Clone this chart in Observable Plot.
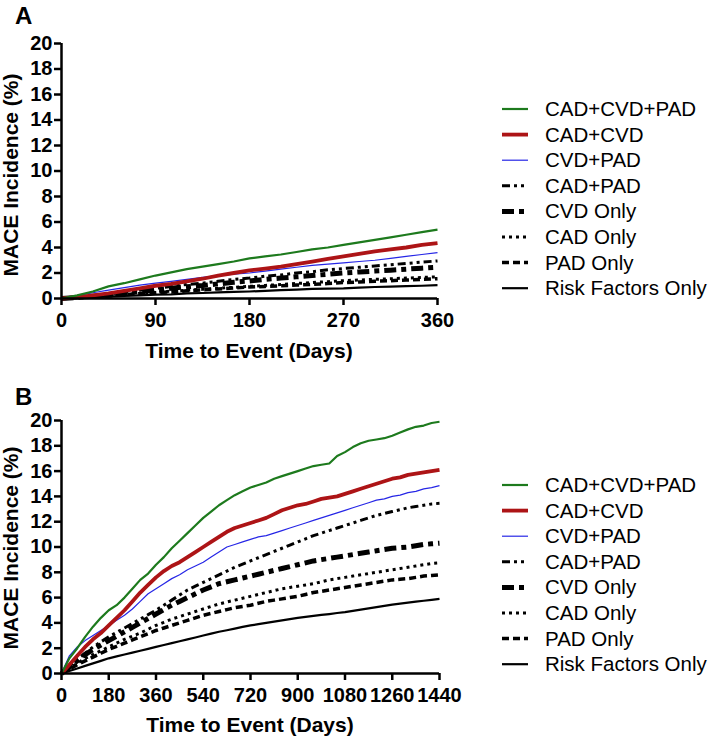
<!DOCTYPE html>
<html>
<head>
<meta charset="utf-8">
<script src="https://cdn.jsdelivr.net/npm/d3@7"></script>
<script src="https://cdn.jsdelivr.net/npm/@observablehq/plot@0.6"></script>
<style>
html,body{margin:0;padding:0;background:#fff;}
#fig{position:relative;width:709px;height:740px;overflow:hidden;background:#fff;font-family:"Liberation Sans",Arial,Helvetica,sans-serif;}
.panel{position:absolute;left:0;width:709px;height:370px;}
#overlay{position:absolute;left:0;top:0;pointer-events:none;}
</style>
</head>
<body>
<div id="fig">
  <div class="panel" id="panelA" style="top:0px"></div>
  <div class="panel" id="panelB" style="top:370px"></div>
</div>
<script>
// ---------- categories & ticks ----------
const seriesNames = ["CAD+CVD+PAD", "CAD+CVD", "CVD+PAD", "CAD+PAD", "CVD Only", "CAD Only", "PAD Only", "Risk Factors Only"];
const yTicks = [0, 2, 4, 6, 8, 10, 12, 14, 16, 18, 20];
const xTicksA = [0, 90, 180, 270, 360];
const xTicksB = [0, 180, 360, 540, 720, 900, 1080, 1260, 1440];
const panelLetters = ["A", "B"];
const yTitle = "MACE Incidence (%)";
const xTitle = "Time to Event (Days)";

// ---------- Panel A (days 0-360) ----------
const daysA = [0, 15, 30, 45, 60, 75, 90, 105, 120, 135, 150, 165, 180, 195, 210, 225, 240, 255, 270, 285, 300, 315, 330, 345, 360];
const aCadCvdPad = [0, 0.25, 0.55, 0.95, 1.2, 1.5, 1.8, 2.05, 2.3, 2.5, 2.7, 2.9, 3.15, 3.3, 3.45, 3.65, 3.85, 4.0, 4.2, 4.4, 4.6, 4.8, 5.0, 5.2, 5.4];
const aCadCvd    = [0, 0.1, 0.25, 0.4, 0.6, 0.8, 1.0, 1.15, 1.35, 1.55, 1.8, 2.0, 2.2, 2.35, 2.5, 2.7, 2.9, 3.1, 3.3, 3.5, 3.7, 3.85, 4.0, 4.2, 4.35];
const aCvdPad    = [0, 0.2, 0.45, 0.65, 0.85, 1.05, 1.2, 1.35, 1.5, 1.65, 1.8, 1.9, 2.0, 2.15, 2.3, 2.45, 2.6, 2.7, 2.8, 2.9, 3.0, 3.15, 3.3, 3.45, 3.6];
const aCadPad    = [0, 0.1, 0.2, 0.35, 0.5, 0.65, 0.8, 0.95, 1.1, 1.2, 1.35, 1.5, 1.6, 1.75, 1.85, 2.0, 2.1, 2.25, 2.35, 2.45, 2.55, 2.65, 2.75, 2.85, 2.95];
const aCvdOnly   = [0, 0.08, 0.18, 0.3, 0.42, 0.55, 0.68, 0.8, 0.92, 1.02, 1.15, 1.27, 1.38, 1.5, 1.6, 1.7, 1.8, 1.9, 2.0, 2.08, 2.15, 2.22, 2.3, 2.38, 2.45];
const aCadOnly   = [0, 0.07, 0.15, 0.22, 0.3, 0.4, 0.5, 0.57, 0.65, 0.72, 0.8, 0.88, 0.95, 1.02, 1.1, 1.18, 1.25, 1.32, 1.4, 1.45, 1.5, 1.55, 1.6, 1.65, 1.7];
const aPadOnly   = [0, 0.05, 0.1, 0.2, 0.3, 0.38, 0.45, 0.52, 0.6, 0.68, 0.75, 0.82, 0.9, 0.95, 1.0, 1.05, 1.1, 1.18, 1.25, 1.3, 1.35, 1.4, 1.45, 1.5, 1.55];
const aRiskOnly  = [0, 0.05, 0.1, 0.15, 0.2, 0.25, 0.3, 0.33, 0.4, 0.43, 0.48, 0.52, 0.55, 0.6, 0.65, 0.7, 0.75, 0.78, 0.8, 0.85, 0.9, 0.93, 0.97, 1.0, 1.05];

// ---------- Panel B (days 0-1440) ----------
const daysB = [0, 30, 60, 90, 120, 150, 180, 210, 240, 270, 300, 330, 360, 390, 420, 450, 480, 510, 540, 570, 600, 630, 660, 690, 720, 750, 780, 810, 840, 870, 900, 930, 960, 990, 1020, 1050, 1080, 1110, 1140, 1170, 1200, 1230, 1260, 1290, 1320, 1350, 1380, 1410, 1440];
const bCadCvdPad = [0, 1.2, 2.0, 2.9, 3.7, 4.4, 5.0, 5.4, 6.0, 6.7, 7.4, 7.9, 8.6, 9.2, 9.9, 10.5, 11.1, 11.7, 12.3, 12.8, 13.3, 13.7, 14.1, 14.4, 14.7, 14.9, 15.1, 15.4, 15.6, 15.8, 16.0, 16.2, 16.4, 16.5, 16.6, 17.2, 17.5, 17.9, 18.2, 18.4, 18.5, 18.6, 18.8, 19.05, 19.3, 19.5, 19.6, 19.8, 19.9];
const bCadCvd    = [0, 0.7, 1.4, 2.1, 2.7, 3.2, 3.8, 4.4, 5.0, 5.7, 6.4, 7.0, 7.6, 8.1, 8.5, 8.8, 9.2, 9.6, 10.0, 10.4, 10.8, 11.2, 11.5, 11.7, 11.9, 12.1, 12.3, 12.6, 12.9, 13.1, 13.3, 13.4, 13.6, 13.8, 13.9, 14.0, 14.2, 14.4, 14.6, 14.8, 15.0, 15.2, 15.4, 15.5, 15.7, 15.8, 15.9, 16.0, 16.1];
const bCvdPad    = [0, 1.4, 2.1, 2.6, 3.0, 3.4, 3.8, 4.2, 4.6, 5.1, 5.7, 6.3, 6.7, 7.1, 7.5, 7.8, 8.2, 8.5, 8.8, 9.2, 9.6, 10.0, 10.2, 10.4, 10.6, 10.8, 10.9, 11.1, 11.3, 11.5, 11.7, 11.9, 12.1, 12.3, 12.5, 12.7, 12.9, 13.1, 13.3, 13.5, 13.7, 13.8, 14.0, 14.1, 14.3, 14.4, 14.6, 14.7, 14.85];
const bCadPad    = [0, 0.6, 1.1, 1.6, 2.1, 2.5, 2.9, 3.25, 3.6, 3.95, 4.3, 4.65, 5.0, 5.4, 5.8, 6.2, 6.6, 6.9, 7.2, 7.5, 7.8, 8.1, 8.4, 8.65, 8.9, 9.15, 9.4, 9.65, 9.9, 10.15, 10.4, 10.65, 10.9, 11.1, 11.3, 11.5, 11.7, 11.9, 12.1, 12.3, 12.5, 12.65, 12.8, 12.95, 13.1, 13.2, 13.3, 13.4, 13.45];
const bCvdOnly   = [0, 0.5, 1.0, 1.5, 1.9, 2.25, 2.6, 2.95, 3.3, 3.65, 4.0, 4.35, 4.7, 5.05, 5.4, 5.7, 6.0, 6.3, 6.6, 6.85, 7.1, 7.25, 7.4, 7.55, 7.7, 7.85, 8.0, 8.15, 8.3, 8.45, 8.6, 8.75, 8.9, 9.0, 9.1, 9.2, 9.3, 9.4, 9.5, 9.6, 9.7, 9.8, 9.9, 9.95, 10.0, 10.1, 10.2, 10.25, 10.3];
const bCadOnly   = [0, 0.4, 0.8, 1.2, 1.5, 1.8, 2.1, 2.4, 2.7, 2.95, 3.2, 3.5, 3.8, 4.05, 4.3, 4.5, 4.7, 4.9, 5.1, 5.3, 5.5, 5.65, 5.8, 5.95, 6.1, 6.25, 6.4, 6.55, 6.7, 6.8, 6.9, 7.0, 7.1, 7.25, 7.4, 7.5, 7.6, 7.7, 7.8, 7.9, 8.0, 8.1, 8.2, 8.3, 8.4, 8.5, 8.6, 8.7, 8.75];
const bPadOnly   = [0, 0.35, 0.7, 1.0, 1.3, 1.6, 1.9, 2.15, 2.4, 2.65, 2.9, 3.15, 3.4, 3.6, 3.8, 4.0, 4.2, 4.4, 4.6, 4.75, 4.9, 5.05, 5.2, 5.3, 5.4, 5.55, 5.7, 5.8, 5.9, 6.0, 6.1, 6.25, 6.4, 6.5, 6.6, 6.7, 6.8, 6.9, 7.0, 7.1, 7.2, 7.3, 7.4, 7.45, 7.5, 7.6, 7.7, 7.75, 7.8];
const bRiskOnly  = [0, 0.2, 0.4, 0.6, 0.8, 1.0, 1.2, 1.35, 1.5, 1.65, 1.8, 1.95, 2.1, 2.25, 2.4, 2.55, 2.7, 2.85, 3.0, 3.15, 3.3, 3.42, 3.55, 3.68, 3.8, 3.9, 4.0, 4.1, 4.2, 4.3, 4.4, 4.48, 4.55, 4.63, 4.7, 4.78, 4.85, 4.95, 5.05, 5.15, 5.25, 5.35, 5.45, 5.52, 5.6, 5.68, 5.75, 5.82, 5.9];

// ---------- styles (kept apart from data) ----------
const lineStyles = {
  "CAD+CVD+PAD":       {stroke: "#1d7a1d", width: 2.2, dash: null,          cap: "butt"},
  "CAD+CVD":           {stroke: "#ad1416", width: 3.8, dash: null,          cap: "butt"},
  "CVD+PAD":           {stroke: "#2626e6", width: 1.2, dash: null,          cap: "butt"},
  "CAD+PAD":           {stroke: "#000",    width: 3.0, dash: "8,4,3,4,3,4", cap: "butt"},
  "CVD Only":          {stroke: "#000",    width: 5.0, dash: "12,5,5,5",    cap: "butt"},
  "CAD Only":          {stroke: "#000",    width: 3.0, dash: "3,4",         cap: "butt"},
  "PAD Only":          {stroke: "#000",    width: 3.5, dash: "7,4",         cap: "butt"},
  "Risk Factors Only": {stroke: "#000",    width: 2.2, dash: null,          cap: "butt"}
};
const FONT = '"Liberation Sans", Arial, Helvetica, sans-serif';

function makePanel(days, values, xMax, xTicks, m) {
  const rows = seriesNames.flatMap((name, i) => values[i].map((v, j) => ({series: name, day: days[j], pct: v})));
  const lineMarks = seriesNames.slice().reverse().map(name => {
    const s = lineStyles[name];
    const opts = {x: "day", y: "pct", stroke: s.stroke, strokeWidth: s.width, strokeLinecap: s.cap, strokeLinejoin: "round"};
    if (s.dash) opts.strokeDasharray = s.dash;
    return Plot.line(rows.filter(r => r.series === name), opts);
  });
  return Plot.plot({
    width: 709, height: 370,
    marginLeft: m.left, marginRight: m.right, marginTop: m.top, marginBottom: m.bottom,
    x: {domain: [0, xMax], label: null},
    y: {domain: [0, 20], label: null},
    style: {fontFamily: FONT, fontSize: "20px", fontWeight: "bold", color: "#000", background: "transparent", overflow: "visible"},
    marks: [
      ...lineMarks,
      Plot.ruleX([0], {stroke: "#000", strokeWidth: 2.5}),
      Plot.ruleY([0], {stroke: "#000", strokeWidth: 2.5}),
      Plot.axisX({ticks: xTicks, tickSize: 7, tickPadding: 7, tickFormat: d => String(d), strokeWidth: 2.5, label: null}),
      Plot.axisY({ticks: yTicks, tickSize: 7, tickPadding: 2, tickFormat: d => String(d), strokeWidth: 2.5, label: null})
    ]
  });
}

const layoutA = {left: 61, right: 709 - 437, top: 43, bottom: 370 - 298};
const layoutB = {left: 61, right: 709 - 439, top: 50, bottom: 370 - 303};

document.getElementById("panelA").appendChild(
  makePanel(daysA, [aCadCvdPad, aCadCvd, aCvdPad, aCadPad, aCvdOnly, aCadOnly, aPadOnly, aRiskOnly], 360, xTicksA, layoutA));
document.getElementById("panelB").appendChild(
  makePanel(daysB, [bCadCvdPad, bCadCvd, bCvdPad, bCadPad, bCvdOnly, bCadOnly, bPadOnly, bRiskOnly], 1440, xTicksB, layoutB));

// ---------- overlay: panel letters, axis titles, legends ----------
const svg = d3.select("#fig").append("svg").attr("id", "overlay")
  .attr("width", 709).attr("height", 740)
  .style("font-family", FONT);

const panelsGeo = [
  {letterY: 24, yTitleC: 175, xTitleY: 358, legendTop: 109, cx: 249},
  {letterY: 405, yTitleC: 548, xTitleY: 732, legendTop: 485, cx: 250}
];
panelsGeo.forEach((g, p) => {
  svg.append("text").attr("x", 15).attr("y", g.letterY)
    .attr("font-size", 24).attr("font-weight", "bold").text(panelLetters[p]);
  svg.append("text")
    .attr("transform", `translate(18,${g.yTitleC}) rotate(-90)`)
    .attr("text-anchor", "middle").attr("font-size", 21).attr("font-weight", "bold").text(yTitle);
  svg.append("text").attr("x", g.cx).attr("y", g.xTitleY)
    .attr("text-anchor", "middle").attr("font-size", 21).attr("font-weight", "bold").text(xTitle);
  const lg = svg.append("g");
  seriesNames.forEach((name, i) => {
    const s = lineStyles[name];
    const y = g.legendTop + i * 25.6;
    const ln = lg.append("line").attr("x1", 502).attr("x2", 528).attr("y1", y).attr("y2", y)
      .attr("stroke", s.stroke).attr("stroke-width", s.width).attr("stroke-linecap", s.cap);
    if (s.dash) ln.attr("stroke-dasharray", s.dash);
    lg.append("text").attr("x", 545).attr("y", y + 7).attr("font-size", 20.5).text(name);
  });
});
</script>
</body>
</html>
